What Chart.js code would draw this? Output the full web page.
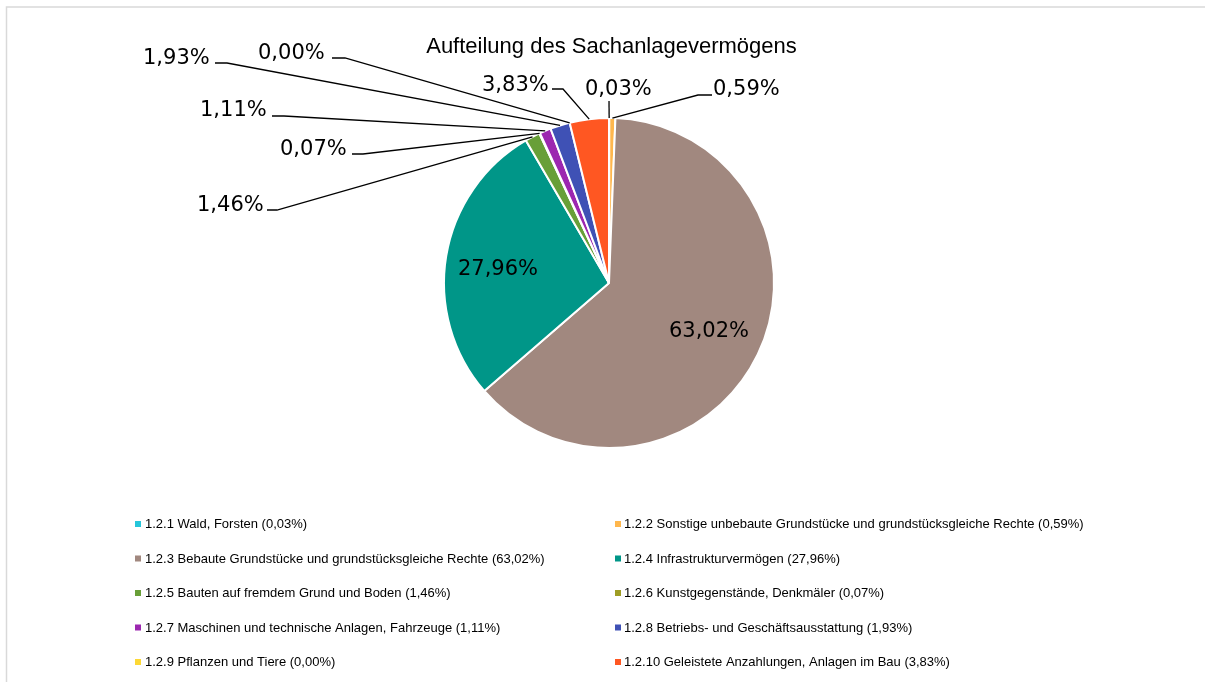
<!DOCTYPE html>
<html><head><meta charset="utf-8">
<script src="https://cdn.jsdelivr.net/npm/chart.js@4.4.0/dist/chart.umd.min.js"></script>
<style>html,body{margin:0;padding:0;background:#fff;overflow:hidden;} canvas{display:block;}</style>
</head><body>
<canvas id="c" width="1205" height="682"></canvas>
<script>
const chartTitle = 'Aufteilung des Sachanlagevermögens';
const categories = [
  '1.2.1 Wald, Forsten',
  '1.2.2 Sonstige unbebaute Grundstücke und grundstücksgleiche Rechte',
  '1.2.3 Bebaute Grundstücke und grundstücksgleiche Rechte',
  '1.2.4 Infrastrukturvermögen',
  '1.2.5 Bauten auf fremdem Grund und Boden',
  '1.2.6 Kunstgegenstände, Denkmäler',
  '1.2.7 Maschinen und technische Anlagen, Fahrzeuge',
  '1.2.8 Betriebs- und Geschäftsausstattung',
  '1.2.9 Pflanzen und Tiere',
  '1.2.10 Geleistete Anzahlungen, Anlagen im Bau'
];
const values = [0.03, 0.59, 63.02, 27.96, 1.46, 0.07, 1.11, 1.93, 0.00, 3.83];
const colors = ['#26C6DA', '#FFB74D', '#A1887F', '#009688', '#689F38', '#9E9D24', '#9C27B0', '#3F51B5', '#FDD835', '#FF5722'];

function pct(v) { return v.toFixed(2).replace('.', ',') + '%'; }

// label placement (layout only): text left x / baseline y, leader polyline points (edge point comes from the arc)
const labelLayout = [
  {x: 585, y: 95, lead: [[609, 101]]},
  {x: 713, y: 95, lead: [[712, 95], [698, 95]]},
  {inside: true, cx: 709, cy: 332},
  {inside: true, cx: 498, cy: 270},
  {x: 197, y: 211, lead: [[267, 210], [277, 210]]},
  {x: 280, y: 155, lead: [[352, 154], [363, 154]]},
  {x: 200, y: 116, lead: [[272, 116], [284, 116]]},
  {x: 143, y: 64, lead: [[215, 63], [227, 63]]},
  {x: 258, y: 59, lead: [[332, 58], [345, 58]]},
  {x: 482, y: 91, lead: [[552, 89], [563, 89]]}
];

const overlay = {
  id: 'overlay',
  beforeDraw(chart) {
    const ctx = chart.ctx;
    ctx.save();
    ctx.fillStyle = '#fff';
    ctx.fillRect(0, 0, chart.width, chart.height);
    ctx.strokeStyle = '#d9d9d9';
    ctx.lineWidth = 1.5;
    ctx.beginPath();
    ctx.moveTo(6.5, chart.height);
    ctx.lineTo(6.5, 7);
    ctx.lineTo(chart.width, 7);
    ctx.stroke();
    ctx.restore();
  },
  afterDatasetsDraw(chart) {
    const ctx = chart.ctx;
    const meta = chart.getDatasetMeta(0);
    const data = chart.data.datasets[0].data;
    ctx.save();
    // title
    ctx.fillStyle = '#000';
    ctx.font = '22px "Liberation Sans", Arial, sans-serif';
    ctx.textAlign = 'center';
    ctx.textBaseline = 'alphabetic';
    ctx.fillText(chartTitle, 611.5, 53);

    // data labels
    ctx.font = '21px "DejaVu Sans", sans-serif';
    meta.data.forEach((arc, i) => {
      const L = labelLayout[i];
      const txt = pct(data[i]);
      if (L.inside) {
        ctx.textAlign = 'center';
        ctx.textBaseline = 'middle';
        ctx.fillStyle = '#000';
        ctx.fillText(txt, L.cx, L.cy);
        return;
      }
      const p = arc.getProps(['x', 'y', 'startAngle', 'endAngle', 'outerRadius'], true);
      const mid = (p.startAngle + p.endAngle) / 2;
      const ex = p.x + Math.cos(mid) * p.outerRadius;
      const ey = p.y + Math.sin(mid) * p.outerRadius;
      ctx.strokeStyle = '#000';
      ctx.lineWidth = 1.3;
      ctx.beginPath();
      L.lead.forEach((pt, k) => { if (k === 0) ctx.moveTo(pt[0], pt[1]); else ctx.lineTo(pt[0], pt[1]); });
      ctx.lineTo(ex, ey);
      ctx.stroke();
      ctx.textAlign = 'left';
      ctx.textBaseline = 'alphabetic';
      ctx.fillStyle = '#000';
      ctx.fillText(txt, L.x, L.y);
    });

    // legend (two columns)
    ctx.font = '13px "Liberation Sans", Arial, sans-serif';
    ctx.textBaseline = 'middle';
    ctx.textAlign = 'left';
    categories.forEach((c, i) => {
      const col = i % 2, row = Math.floor(i / 2);
      const mx = col === 0 ? 135 : 615;
      const tx = col === 0 ? 145 : 624;
      const y = 524 + row * 34.5;
      ctx.fillStyle = colors[i];
      ctx.fillRect(mx, y - 3, 6, 6);
      ctx.fillStyle = '#000';
      ctx.fillText(c + ' (' + pct(data[i]) + ')', tx, y + 0.5);
    });
    ctx.restore();
  }
};

new Chart(document.getElementById('c'), {
  type: 'pie',
  data: {
    labels: categories,
    datasets: [{
      data: values,
      backgroundColor: colors,
      borderColor: '#ffffff',
      borderWidth: 2,
      hoverOffset: 0
    }]
  },
  options: {
    responsive: false,
    devicePixelRatio: 1,
    animation: false,
    layout: {padding: {top: 117, bottom: 233, left: 443, right: 430}},
    plugins: {
      legend: {display: false},
      title: {display: false},
      tooltip: {enabled: false}
    }
  },
  plugins: [overlay]
});
</script>
</body></html>
